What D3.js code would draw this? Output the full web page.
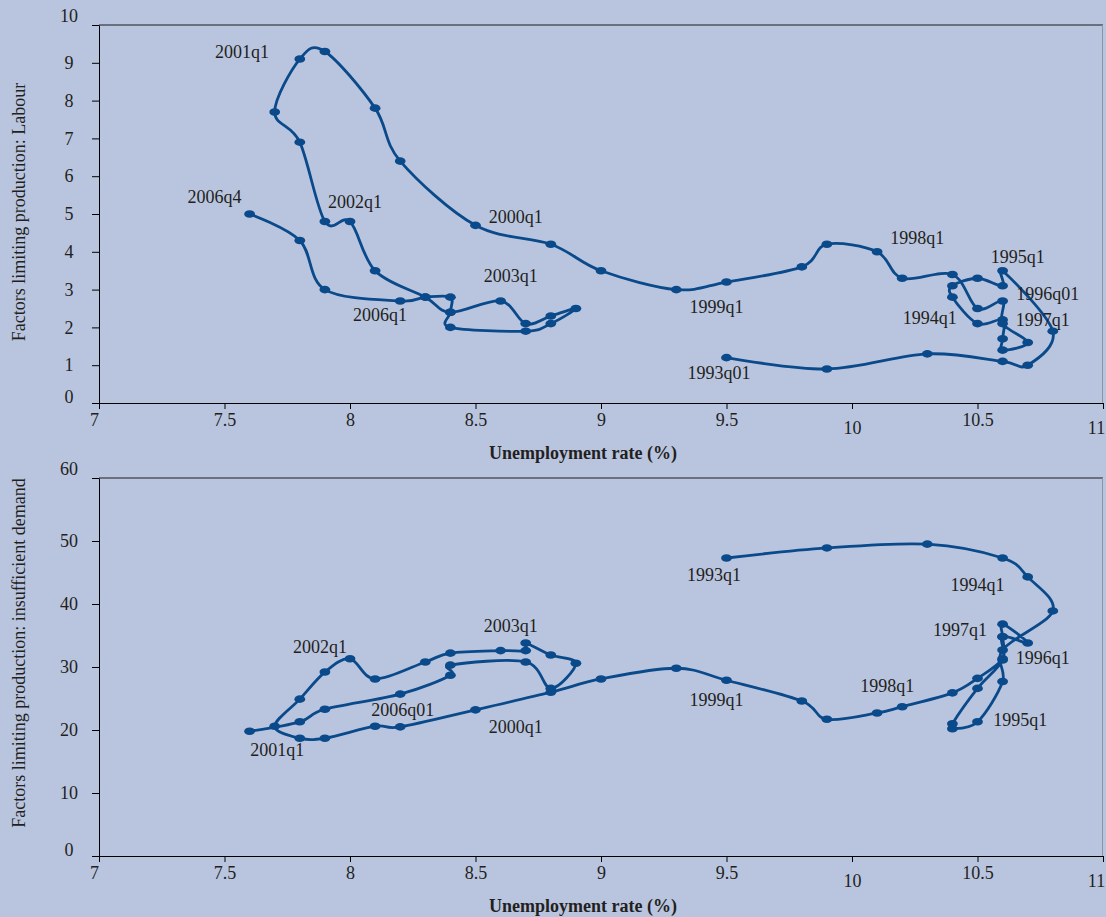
<!DOCTYPE html>
<html>
<head>
<meta charset="utf-8">
<script src="https://cdn.jsdelivr.net/npm/d3@7"></script>
<style>
  html, body { margin: 0; padding: 0; background: #b9c5df; }
  svg { display: block; }
  text { font-family: "Liberation Serif", "DejaVu Serif", serif; fill: #231f20; }
</style>
</head>
<body>
<svg id="chart" width="1106" height="917"></svg>
<script>
// Unemployment rate (%) against survey factors limiting production, 1993q1 – 2006q4

// --- Panel 1: labour shortage ---
const labourUnemp = [
  9.5, 9.9, 10.3, 10.6, 10.7, 10.8, 10.6, 10.6, 10.5, 10.4, 10.4, 10.5, 10.6, 10.6,
  10.6, 10.7, 10.6, 10.6, 10.5, 10.4, 10.2, 10.1, 9.9, 9.8, 9.5, 9.3, 9.0, 8.8, 8.5,
  8.2, 8.1, 7.9, 7.8, 7.7, 7.8, 7.9, 8.0, 8.1, 8.3, 8.4, 8.6, 8.7, 8.8, 8.9, 8.8,
  8.7, 8.4, 8.4, 8.4, 8.3, 8.2, 7.9, 7.8, 7.6
];
const labourValues = [
  1.2, 0.9, 1.3, 1.1, 1.0, 1.9, 3.5, 3.1, 3.3, 3.1, 2.8, 2.1, 2.2, 1.7,
  1.4, 1.6, 2.1, 2.7, 2.5, 3.4, 3.3, 4.0, 4.2, 3.6, 3.2, 3.0, 3.5, 4.2, 4.7,
  6.4, 7.8, 9.3, 9.1, 7.7, 6.9, 4.8, 4.8, 3.5, 2.8, 2.4, 2.7, 2.1, 2.3, 2.5, 2.1,
  1.9, 2.0, 2.4, 2.8, 2.8, 2.7, 3.0, 4.3, 5.0
];
const labourLabels = ["2001q1", "2006q4", "2002q1", "2000q1", "2003q1", "2006q1", "1999q1",
                      "1993q01", "1998q1", "1995q1", "1996q01", "1994q1", "1997q1"];
const labourLabelU = [7.57, 7.46, 8.02, 8.66, 8.64, 8.12, 9.46, 9.47, 10.26, 10.66, 10.78, 10.31, 10.76];
const labourLabelV = [9.3, 5.45, 5.32, 4.92, 3.36, 2.33, 2.54, 0.79, 4.37, 3.86, 2.88, 2.25, 2.2];

// --- Panel 2: insufficient demand ---
const demandUnemp = [
  9.5, 9.9, 10.3, 10.6, 10.7, 10.8, 10.6, 10.6, 10.5, 10.4, 10.4, 10.5, 10.6, 10.6,
  10.6, 10.7, 10.6, 10.6, 10.5, 10.4, 10.2, 10.1, 9.9, 9.8, 9.5, 9.3, 9.0, 8.8, 8.5,
  8.2, 8.1, 7.9, 7.8, 7.7, 7.8, 7.9, 8.0, 8.1, 8.3, 8.4, 8.6, 8.7, 8.7, 8.8, 8.9,
  8.8, 8.7, 8.4, 8.4, 8.2, 7.9, 7.8, 7.6
];
const demandValues = [
  47.3, 48.9, 49.5, 47.3, 44.3, 38.9, 32.7, 27.7, 21.3, 20.2, 21.0, 26.6, 31.1, 34.8,
  36.8, 33.8, 34.8, 31.3, 28.2, 25.9, 23.7, 22.7, 21.7, 24.6, 27.9, 29.8, 28.1, 26.0, 23.2,
  20.5, 20.6, 18.7, 18.7, 20.6, 24.9, 29.2, 31.3, 28.1, 30.8, 32.2, 32.6, 32.6, 33.8, 31.9, 30.6,
  26.6, 30.8, 30.3, 28.7, 25.7, 23.3, 21.3, 19.8
];
const demandLabels = ["1993q1", "1994q1", "1997q1", "1996q1", "1998q1", "1999q1", "1995q1",
                      "2003q1", "2002q1", "2006q01", "2000q1", "2001q1"];
const demandLabelU = [9.45, 10.5, 10.43, 10.76, 10.14, 9.46, 10.67, 8.64, 7.88, 8.21, 8.66, 7.71];
const demandLabelV = [44.6, 43.0, 35.9, 31.4, 27.0, 24.8, 21.7, 36.5, 33.3, 23.2, 20.6, 16.8];

// --- Axes ---
const xTicks = [7, 7.5, 8, 8.5, 9, 9.5, 10, 10.5, 11];
const xTickLabels = ["7", "7.5", "8", "8.5", "9", "9.5", "10", "10.5", "11"];
const labourTicks = [0, 1, 2, 3, 4, 5, 6, 7, 8, 9, 10];
const demandTicks = [0, 10, 20, 30, 40, 50, 60];
const xTitle = "Unemployment rate (%)";
const labourTitle = "Factors limiting production: Labour";
const demandTitle = "Factors limiting production: insufficient demand";

const LINE = "#0a4a8b";
const svg = d3.select("#chart");
const W = 1106;

svg.append("rect").attr("width", W).attr("height", 917).attr("fill", "#b9c5df");

function panel(opts) {
  const x = d3.scaleLinear().domain([7, 11]).range([99, 1103]);
  const y = d3.scaleLinear().domain(opts.yDomain).range([opts.bottom, opts.top]);
  const g = svg.append("g");

  // frame: top and right edges of the plot area
  g.append("line").attr("x1", x(7)).attr("x2", x(11)).attr("y1", y(opts.yDomain[1])).attr("y2", y(opts.yDomain[1]))
    .attr("stroke", "#1a1a1a").attr("stroke-width", 1);
  g.append("line").attr("x1", x(11) - 0.5).attr("x2", x(11) - 0.5).attr("y1", y(opts.yDomain[1])).attr("y2", y(0))
    .attr("stroke", "#8c94a8").attr("stroke-width", 1);

  // x axis
  const xa = g.append("g").attr("transform", `translate(0,${y(0)})`)
    .call(d3.axisBottom(x).tickValues(xTicks).tickFormat((d, i) => xTickLabels[i]).tickSize(6).tickSizeOuter(0));
  xa.select(".domain").attr("stroke", "#000");
  xa.selectAll(".tick line").attr("stroke", "#000");
  xa.selectAll(".tick text")
    .attr("font-size", 18).attr("font-family", "Liberation Serif")
    .attr("fill", "#231f20")
    .attr("y", d => (d === 10 || d === 11) ? 25 : 17)
    .attr("dy", "0.35em")
    .attr("dx", (d, i) => i === 0 ? -5 : (d === 11 ? -7 : 0));

  // y axis
  const ya = g.append("g").attr("transform", `translate(${x(7)},0)`)
    .call(d3.axisLeft(y).tickValues(opts.ticks).tickSize(7).tickSizeOuter(0));
  ya.select(".domain").attr("stroke", "#000");
  ya.selectAll(".tick line").attr("stroke", "#000");
  const n = opts.ticks.length;
  ya.selectAll(".tick text")
    .attr("font-size", 18).attr("font-family", "Liberation Serif")
    .attr("fill", "#231f20")
    .attr("text-anchor", "middle")
    .attr("x", -30)
    .attr("dy", (d, i) => i === 0 ? "-0.02em" : (i === n - 1 ? "-0.22em" : "0.32em"));

  // axis titles
  g.append("text").attr("x", 583).attr("y", y(0) + 50).attr("dy", "0.35em")
    .attr("text-anchor", "middle").attr("font-size", 18).attr("font-weight", "bold")
    .text(xTitle);
  g.append("text")
    .attr("transform", `translate(19,${opts.titleY}) rotate(-90)`)
    .attr("text-anchor", "middle").attr("dy", "0.35em").attr("font-size", 18)
    .text(opts.title);

  // smoothed trajectory
  const pts = opts.u.map((u, i) => [u, opts.v[i]]);
  const line = d3.line().x(d => x(d[0])).y(d => y(d[1])).curve(d3.curveCardinal.tension(0));
  g.append("path").datum(pts).attr("d", line)
    .attr("fill", "none").attr("stroke", LINE).attr("stroke-width", 2.8)
    .attr("stroke-linejoin", "round").attr("stroke-linecap", "round");
  g.selectAll("ellipse.pt").data(pts).join("ellipse").attr("class", "pt")
    .attr("cx", d => x(d[0])).attr("cy", d => y(d[1]))
    .attr("rx", 5.4).attr("ry", 3.8).attr("fill", LINE);

  // period annotations
  g.selectAll("text.lab").data(opts.labels).join("text").attr("class", "lab")
    .attr("x", (d, i) => x(opts.labelU[i])).attr("y", (d, i) => y(opts.labelV[i]))
    .attr("dy", "0.35em").attr("text-anchor", "middle").attr("font-size", 18)
    .text(d => d);
}

panel({
  yDomain: [0, 10], ticks: labourTicks, top: 25, bottom: 403, titleY: 212,
  title: labourTitle, u: labourUnemp, v: labourValues,
  labels: labourLabels, labelU: labourLabelU, labelV: labourLabelV
});
panel({
  yDomain: [0, 60], ticks: demandTicks, top: 478, bottom: 856, titleY: 653,
  title: demandTitle, u: demandUnemp, v: demandValues,
  labels: demandLabels, labelU: demandLabelU, labelV: demandLabelV
});
</script>
</body>
</html>
